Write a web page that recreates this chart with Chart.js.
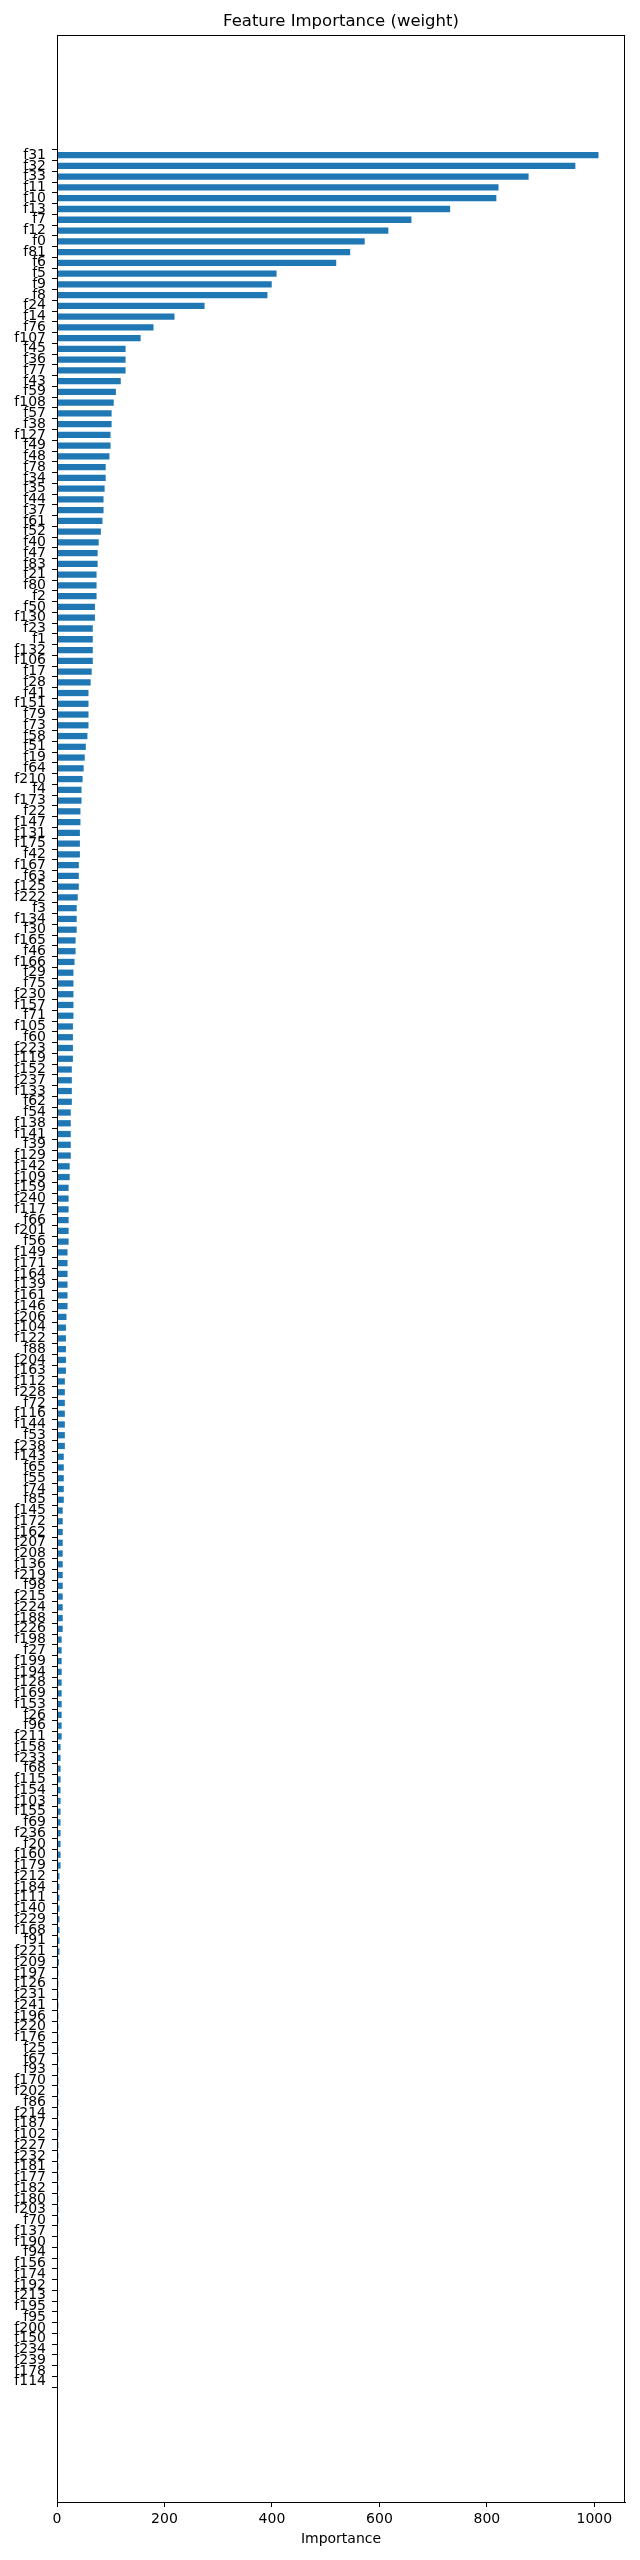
<!DOCTYPE html>
<html>
<head>
<meta charset="utf-8">
<script src="https://cdn.jsdelivr.net/npm/chart.js@4.4.0/dist/chart.umd.min.js"></script>
<style>
  html, body { margin: 0; padding: 0; background: #fff; }
</style>
</head>
<body>
<canvas id="myChart" width="640" height="2560"></canvas>
<script>
'use strict';
// feature names, top bar first
let features = ['f31','f32','f33','f11','f10','f13','f7','f12','f0','f81',
  'f6','f5','f9','f8','f24','f14','f76','f107','f45','f36',
  'f77','f43','f59','f108','f57','f38','f127','f49','f48','f78',
  'f34','f35','f44','f37','f61','f52','f40','f47','f83','f21',
  'f80','f2','f50','f130','f23','f1','f132','f106','f17','f28',
  'f41','f151','f79','f73','f58','f51','f19','f64','f210','f4',
  'f173','f22','f147','f131','f175','f42','f167','f63','f125','f222',
  'f3','f134','f30','f165','f46','f166','f29','f75','f230','f157',
  'f71','f105','f60','f223','f119','f152','f237','f133','f62','f54',
  'f138','f141','f39','f129','f142','f109','f159','f240','f117','f66',
  'f201','f56','f149','f171','f164','f139','f161','f146','f206','f104',
  'f122','f88','f204','f163','f112','f228','f72','f116','f144','f53',
  'f238','f143','f65','f55','f74','f85','f145','f172','f162','f207',
  'f208','f136','f219','f98','f215','f224','f188','f226','f198','f27',
  'f199','f194','f128','f169','f153','f26','f96','f211','f158','f233',
  'f68','f115','f154','f103','f155','f69','f236','f20','f160','f179',
  'f212','f184','f111','f140','f229','f168','f91','f221','f209','f197',
  'f126','f231','f241','f196','f220','f176','f25','f67','f93','f170',
  'f202','f86','f214','f187','f102','f227','f232','f181','f177','f182',
  'f180','f203','f70','f137','f190','f94','f156','f174','f192','f213',
  'f195','f95','f200','f150','f234','f239','f178','f114'];

// weight of each feature, same order
let importance = [1007,964,877,821,817,731,659,616,572,545,
  519,408,399,391,274,218,179,155,127,127,
  127,118,109,105,101,101,99,99,97,90,
  90,88,86,86,84,81,77,75,75,73,
  73,73,70,70,66,66,66,66,64,62,
  58,58,58,58,56,53,51,49,47,45,
  45,43,43,42,42,42,40,40,40,38,
  36,36,36,34,34,32,30,30,30,30,
  30,29,29,29,29,27,27,27,27,25,
  25,25,25,25,23,23,21,21,21,21,
  21,21,19,19,19,19,19,19,17,16,
  16,16,16,16,14,14,14,14,14,14,
  14,12,12,12,12,12,10,10,10,10,
  10,10,10,10,10,10,10,10,8,8,
  8,8,8,8,8,8,8,8,6,6,
  6,6,6,6,6,6,6,6,6,6,
  4,4,4,4,4,4,4,4,3,2,
  2,2,2,2,2,2,2,2,2,2,
  2,2,2,2,2,2,2,2,2,2,
  2,2,2,1,1,1,1,1,1,1,
  1,1,1,1,1,1,1,1];

let xTicks = [0, 200, 400, 600, 800, 1000];

Chart.defaults.font.family = "'DejaVu Sans', sans-serif";
Chart.defaults.font.size = 14;
Chart.defaults.color = '#000';

// matplotlib style frame and title centred on the axes
let framePlugin = {
    id: 'frame',
    afterDraw(chart) {
        let ctx = chart.ctx;
        let a = chart.chartArea;
        ctx.save();
        ctx.strokeStyle = '#000';
        ctx.lineWidth = 1;
        ctx.strokeRect(a.left + 0.5, a.top + 0.5, a.right - a.left - 1, a.bottom - a.top);
        ctx.fillStyle = '#000';
        ctx.font = "16.5px 'DejaVu Sans', sans-serif";
        ctx.textAlign = 'center';
        ctx.textBaseline = 'alphabetic';
        ctx.fillText('Feature Importance (weight)', (a.left + a.right) / 2, a.top - 9);
        ctx.restore();
    }
};

let ctx = document.getElementById('myChart').getContext('2d');
let myChart = new Chart(ctx, {
    type: 'bar',
    data: {
        datasets: [{
            data: importance.map((v, i) => ({x: v, y: i})),
            backgroundColor: '#1f77b4',
            borderWidth: 0,
            barThickness: 5.6
        }]
    },
    plugins: [framePlugin],
    options: {
        indexAxis: 'y',
        responsive: false,
        animation: false,
        devicePixelRatio: 1,
        layout: {
            padding: {top: 35, right: 15, left: 0, bottom: 0}
        },
        plugins: {
            legend: {display: false},
            tooltip: {enabled: false}
        },
        scales: {
            x: {
                type: 'linear',
                position: 'bottom',
                min: 0,
                max: 1057,
                afterBuildTicks: scale => {
                    scale.ticks = xTicks.map(v => ({value: v}));
                },
                afterFit: scale => {
                    scale.height = 58;
                },
                ticks: {padding: 4, maxRotation: 0, callback: v => String(v)},
                grid: {drawOnChartArea: false, tickLength: 5, tickColor: '#000'},
                border: {color: '#000', width: 1},
                title: {
                    display: true,
                    text: 'Importance',
                    padding: {top: 0, bottom: 12}
                }
            },
            y: {
                type: 'linear',
                reverse: true,
                min: -10.625,
                max: 217.625,
                afterBuildTicks: scale => {
                    scale.ticks = features.map((f, i) => ({value: i}));
                },
                afterFit: scale => {
                    scale.width = 57;
                },
                ticks: {
                    autoSkip: false,
                    padding: 6,
                    callback: v => features[v]
                },
                grid: {drawOnChartArea: false, tickLength: 5, tickColor: '#000'},
                border: {color: '#000', width: 1}
            }
        }
    }
});
</script>
</body>
</html>
